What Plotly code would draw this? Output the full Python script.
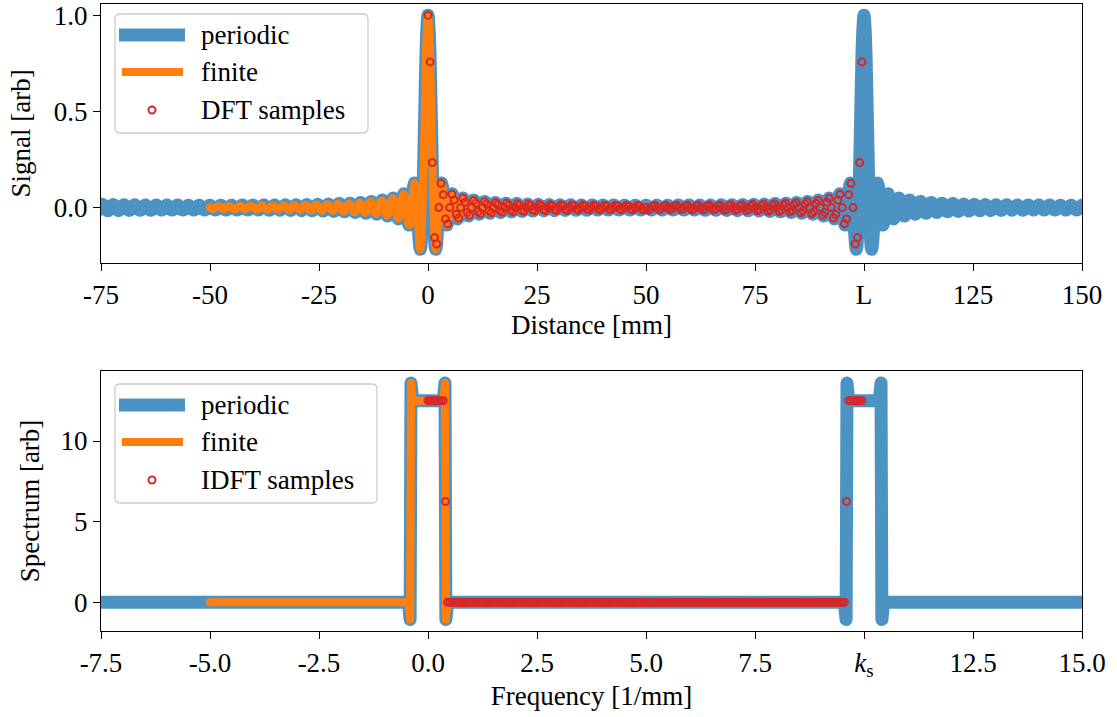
import plotly.graph_objects as go

# ================= data: top panel (signal vs distance) =================
L_PERIOD = 100.0
# periodic signal, one half-period (x >= 0), read at oscillation extrema
sig_half_x = [0.0, 0.3, 0.6, 0.9, 1.23, 1.77, 3.09, 4.32, 5.56, 6.79, 8.02, 9.26, 10.49,
              11.73, 12.96, 14.20, 15.43, 16.67, 17.90, 19.14, 20.37, 21.60, 22.84, 24.07,
              25.31, 26.54, 27.78, 29.01, 30.25, 31.48, 32.72, 33.95, 35.19, 36.42, 37.65,
              38.89, 40.12, 41.36, 42.59, 43.83, 45.06, 46.30, 47.53, 48.77, 50.0]
sig_half_y = [1.0, 0.905, 0.654, 0.329, 0.0, -0.217, 0.128, -0.091, 0.072, -0.059, 0.050,
              -0.044, 0.039, -0.035, 0.032, -0.029, 0.027, -0.025, 0.023, -0.022, 0.021,
              -0.020, 0.019, -0.018, 0.0175, -0.017, 0.016, -0.016, 0.015, -0.015, 0.015,
              -0.014, 0.014, -0.014, 0.0135, -0.013, 0.013, -0.013, 0.013, -0.013, 0.0126,
              -0.0126, 0.0125, -0.0125, 0.0125]
# finite signal, half (x >= 0)
fin_half_x = [0.0, 0.3, 0.6, 0.9, 1.25, 1.79, 3.07, 4.34, 5.6, 6.85, 8.1, 9.375, 10.625,
              11.875, 13.125, 14.375, 15.625, 16.875, 18.125, 19.375, 20.625, 21.875,
              23.125, 24.375, 25.625, 26.875, 28.125, 29.375, 30.625, 31.875, 33.125,
              34.375, 35.625, 36.875, 38.125, 39.375, 40.625, 41.875, 43.125, 44.375,
              45.625, 46.875, 48.125, 49.375, 50.0]
fin_half_y = [1.0, 0.908, 0.662, 0.341, 0.0, -0.217, 0.128, -0.091, 0.071, -0.058, 0.049,
              -0.042, 0.037, -0.034, 0.030, -0.028, 0.025, -0.024, 0.022, -0.021, 0.019,
              -0.018, 0.017, -0.016, 0.016, -0.015, 0.014, -0.0135, 0.013, -0.0125, 0.012,
              -0.0116, 0.0112, -0.0108, 0.0104, -0.0101, 0.0098, -0.0095, 0.0092, -0.0090,
              0.0087, -0.0085, 0.0083, -0.0081, 0.0]
# DFT samples (spacing 0.5 mm, from 0 to 99.5)
dft_step = 0.5
dft_y = [
    1.0, 0.757, 0.234, -0.156, -0.189, 0.0, 0.126, 0.067, -0.059, -0.084,
    0.0, 0.069, 0.039, -0.036, -0.054, 0.0, 0.048, 0.028, -0.026, -0.040,
    0.0, 0.037, 0.022, -0.021, -0.032, 0.0, 0.030, 0.018, -0.017, -0.027,
    0.0, 0.025, 0.015, -0.015, -0.023, 0.0, 0.022, 0.013, -0.013, -0.021,
    0.0, 0.020, 0.012, -0.012, -0.019, 0.0, 0.018, 0.011, -0.011, -0.017,
    0.0, 0.017, 0.010, -0.010, -0.016, 0.0, 0.015, 0.009, -0.009, -0.015,
    0.0, 0.015, 0.009, -0.009, -0.014, 0.0, 0.014, 0.009, -0.008, -0.013,
    0.0, 0.013, 0.008, -0.008, -0.013, 0.0, 0.013, 0.008, -0.008, -0.013,
    0.0, 0.012, 0.008, -0.008, -0.012, 0.0, 0.012, 0.008, -0.007, -0.012,
    0.0, 0.012, 0.007, -0.007, -0.012, 0.0, 0.012, 0.007, -0.007, -0.012,
    0.0, -0.012, -0.007, 0.007, 0.012, 0.0, -0.012, -0.007, 0.007, 0.012,
    0.0, -0.012, -0.007, 0.008, 0.012, 0.0, -0.012, -0.008, 0.008, 0.012,
    0.0, -0.013, -0.008, 0.008, 0.013, 0.0, -0.013, -0.008, 0.008, 0.013,
    0.0, -0.013, -0.008, 0.009, 0.014, 0.0, -0.014, -0.009, 0.009, 0.015,
    0.0, -0.015, -0.009, 0.009, 0.015, 0.0, -0.016, -0.010, 0.010, 0.017,
    0.0, -0.017, -0.011, 0.011, 0.018, 0.0, -0.019, -0.012, 0.012, 0.020,
    0.0, -0.021, -0.013, 0.013, 0.022, 0.0, -0.023, -0.015, 0.015, 0.025,
    0.0, -0.027, -0.017, 0.018, 0.030, 0.0, -0.032, -0.021, 0.022, 0.037,
    0.0, -0.040, -0.026, 0.028, 0.048, 0.0, -0.054, -0.036, 0.039, 0.069,
    0.0, -0.084, -0.059, 0.067, 0.126, 0.0, -0.189, -0.156, 0.234, 0.757,
]
dist_ticks = [-75, -50, -25, 0, 25, 50, 75, 100, 125, 150]
dist_labels = ["-75", "-50", "-25", "0", "25", "50", "75", "L", "125", "150"]
sig_ticks = [0.0, 0.5, 1.0]
sig_labels = ["0.0", "0.5", "1.0"]

# ================= data: bottom panel (spectrum vs frequency) =================
KS = 10.0
spec_x = [-5.0, -0.45, -0.41, -0.39, -0.35, 0.35, 0.39, 0.41, 0.45, 5.0]
spec_y = [0.0, 0.0, -1.07, 13.6, 12.5, 12.5, 13.6, -1.07, 0.0, 0.0]
fin_spec_x = [-5.0, -0.45, -0.41, -0.39, -0.35, 0.35, 0.39, 0.41, 0.45, 5.0]
fin_spec_y = [0.0, 0.0, -1.07, 13.6, 12.5, 12.5, 13.6, -1.07, 0.0, 0.0]
idft_step = 0.05
idft_y = [12.5] * 8 + [6.25] + [0.0] * 183 + [6.25] + [12.5] * 7
freq_ticks = [-7.5, -5.0, -2.5, 0.0, 2.5, 5.0, 7.5, 10.0, 12.5, 15.0]
freq_labels = ["-7.5", "-5.0", "-2.5", "0.0", "2.5", "5.0", "7.5",
               "<i>k</i><sub>s</sub>", "12.5", "15.0"]
spec_ticks = [0, 5, 10]
spec_labels = ["0", "5", "10"]

assert len(sig_half_x) == len(sig_half_y)
assert len(fin_half_x) == len(fin_half_y)
assert len(dft_y) == 200 and len(idft_y) == 200


# ================= helpers =================
def mirror(hx, hy):
    xs = [-v for v in reversed(hx[1:])] + list(hx)
    ys = list(reversed(hy[1:])) + list(hy)
    return xs, ys


def tile(xs, ys, period, shifts):
    X, Y = [], []
    for s in shifts:
        for i, (a, b) in enumerate(zip(xs, ys)):
            xv = a + s * period
            if X and i == 0 and abs(X[-1] - xv) < 1e-9:
                continue
            X.append(xv)
            Y.append(b)
    return X, Y


BLUE = "rgba(31,119,180,0.8)"
ORANGE = "#ff7f0e"
RED = "#d62728"
FONT = "Liberation Serif"
FS = 27

sig_px, sig_py = tile(*mirror(sig_half_x, sig_half_y), L_PERIOD, [-1, 0, 1])
fin_px, fin_py = mirror(fin_half_x, fin_half_y)
dft_x = [i * dft_step for i in range(len(dft_y))]
spec_px, spec_py = tile(spec_x, spec_y, KS, [-1, 0, 1])
idft_x = [i * idft_step for i in range(len(idft_y))]

fig = go.Figure()
fig.add_trace(go.Scatter(x=sig_px, y=sig_py, mode="lines", name="periodic",
                         line=dict(color=BLUE, width=13, shape="spline", smoothing=1.0),
                         xaxis="x", yaxis="y", hoverinfo="skip"))
fig.add_trace(go.Scatter(x=fin_px, y=fin_py, mode="lines", name="finite",
                         line=dict(color=ORANGE, width=8, shape="spline", smoothing=1.0),
                         xaxis="x", yaxis="y", hoverinfo="skip"))
fig.add_trace(go.Scatter(x=dft_x, y=dft_y, mode="markers", name="DFT samples",
                         marker=dict(symbol="circle-open", size=7, color=RED,
                                     line=dict(width=2, color=RED)),
                         xaxis="x", yaxis="y", hoverinfo="skip"))
fig.add_trace(go.Scatter(x=spec_px, y=spec_py, mode="lines", name="periodic",
                         line=dict(color=BLUE, width=13),
                         xaxis="x2", yaxis="y2", hoverinfo="skip"))
fig.add_trace(go.Scatter(x=fin_spec_x, y=fin_spec_y, mode="lines", name="finite",
                         line=dict(color=ORANGE, width=8),
                         xaxis="x2", yaxis="y2", hoverinfo="skip"))
fig.add_trace(go.Scatter(x=idft_x, y=idft_y, mode="markers", name="IDFT samples",
                         marker=dict(symbol="circle-open", size=7, color=RED,
                                     line=dict(width=2, color=RED)),
                         xaxis="x2", yaxis="y2", hoverinfo="skip"))

# ---- layout geometry (pixels) ----
W, H = 1117, 717
ML, MR, MT, MB = 101, 35, 4, 86
PW = W - ML - MR
PH = H - MT - MB


def px(x):
    return (x - ML) / PW


def py(y):
    return (H - MB - y) / PH


axis_common = dict(showline=True, linecolor="black", linewidth=1.3, mirror=True,
                   ticks="outside", ticklen=7, tickwidth=1.3, tickcolor="black",
                   showgrid=False, zeroline=False, ticklabeloverflow="allow",
                   tickfont=dict(family=FONT, size=FS, color="black"))

fig.update_layout(
    width=W, height=H, showlegend=False,
    margin=dict(l=ML, r=MR, t=MT, b=MB, autoexpand=False),
    paper_bgcolor="white", plot_bgcolor="white",
    font=dict(family=FONT, size=FS, color="black"),
    xaxis=dict(domain=[0, 1], range=[-75, 150], anchor="y",
               tickvals=dist_ticks, ticktext=dist_labels,
               title=dict(text="Distance [mm]", font=dict(family=FONT, size=FS), standoff=5),
               **axis_common),
    yaxis=dict(domain=[py(263), 1.0], range=[-0.288, 1.058], anchor="x",
               tickvals=sig_ticks, ticktext=sig_labels,
               title=dict(text="Signal [arb]", font=dict(family=FONT, size=FS), standoff=15),
               **axis_common),
    xaxis2=dict(domain=[0, 1], range=[-7.5, 15], anchor="y2",
                tickvals=freq_ticks, ticktext=freq_labels,
                title=dict(text="Frequency [1/mm]", font=dict(family=FONT, size=FS), standoff=5),
                **axis_common),
    yaxis2=dict(domain=[0.0, py(371)], range=[-1.78, 14.34], anchor="x2",
                tickvals=spec_ticks, ticktext=spec_labels,
                title=dict(text="Spectrum [arb]", font=dict(family=FONT, size=FS), standoff=13),
                **axis_common),
)


# ---- hand-drawn legends ----
def rounded_box(x0, y0, x1, y1, r=5):
    X, Y = px, py
    return (f"M {X(x0 + r)},{Y(y0)} L {X(x1 - r)},{Y(y0)} Q {X(x1)},{Y(y0)} {X(x1)},{Y(y0 + r)} "
            f"L {X(x1)},{Y(y1 - r)} Q {X(x1)},{Y(y1)} {X(x1 - r)},{Y(y1)} "
            f"L {X(x0 + r)},{Y(y1)} Q {X(x0)},{Y(y1)} {X(x0)},{Y(y1 - r)} "
            f"L {X(x0)},{Y(y0 + r)} Q {X(x0)},{Y(y0)} {X(x0 + r)},{Y(y0)} Z")


shapes = []
annotations = []


def add_legend(box, top, labels):
    x0, y0, x1, y1 = box
    shapes.append(dict(type="path", path=rounded_box(x0, y0, x1, y1), xref="paper", yref="paper",
                       fillcolor="rgba(255,255,255,0.8)", line=dict(color="#cccccc", width=1.3),
                       layer="above"))
    rows = [top + 21, top + 58, top + 96]
    shapes.append(dict(type="line", xref="paper", yref="paper", x0=px(119), x1=px(185),
                       y0=py(rows[0]), y1=py(rows[0]), line=dict(color=BLUE, width=13), layer="above"))
    shapes.append(dict(type="line", xref="paper", yref="paper", x0=px(122), x1=px(183),
                       y0=py(rows[1]), y1=py(rows[1]), line=dict(color=ORANGE, width=8), layer="above"))
    shapes.append(dict(type="circle", xref="paper", yref="paper", x0=px(148.5), x1=px(155.5),
                       y0=py(rows[2] + 3.5), y1=py(rows[2] - 3.5),
                       line=dict(color=RED, width=2), fillcolor="rgba(0,0,0,0)", layer="above"))
    for r, t in zip(rows, labels):
        annotations.append(dict(text=t, x=px(199), y=py(r), xref="paper", yref="paper",
                                xanchor="left", yanchor="middle", showarrow=False,
                                font=dict(family=FONT, size=FS, color="black")))


add_legend((115, 14, 368, 133), 14, ["periodic", "finite", "DFT samples"])
add_legend((115, 384, 377, 503), 384, ["periodic", "finite", "IDFT samples"])
fig.update_layout(shapes=shapes, annotations=annotations)

post = """
var gd = document.getElementById('{plot_id}');
function fixJoins(){
  gd.querySelectorAll('.scatterlayer .js-line').forEach(function(p){
    p.style.strokeLinejoin = 'round';
    p.style.strokeLinecap = 'round';
  });
}
fixJoins();
if (gd.on) { gd.on('plotly_afterplot', fixJoins); }
"""
fig.write_html("out.html", post_script=post)
